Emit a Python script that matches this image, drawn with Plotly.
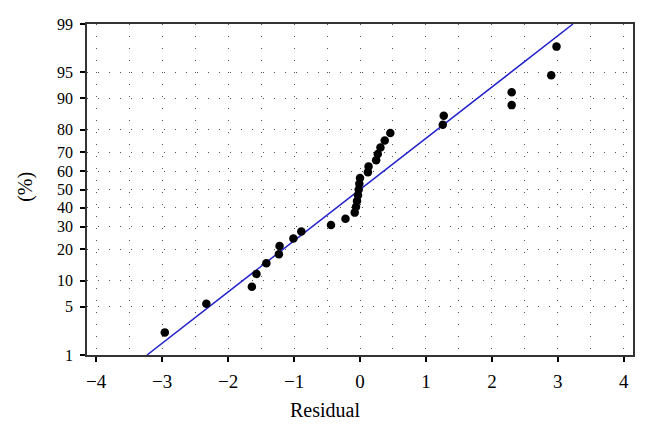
from statistics import NormalDist
import plotly.graph_objects as go

# Sorted residuals and their plotting percentiles (median ranks, n=31)
residuals = [-2.96, -2.33, -1.64, -1.57, -1.42, -1.23, -1.22, -1.01, -0.89, -0.44,
             -0.22, -0.08, -0.06, -0.045, -0.03, -0.02, -0.01, 0.0, 0.12, 0.13,
             0.245, 0.27, 0.31, 0.375, 0.46, 1.255, 1.27, 2.30, 2.30, 2.90, 2.98]
percent = [2.23, 5.41, 8.60, 11.78, 14.97, 18.15, 21.34, 24.52, 27.71, 30.89,
           34.08, 37.26, 40.45, 43.63, 46.82, 50.0, 53.18, 56.37, 59.55, 62.74,
           65.92, 69.11, 72.29, 75.48, 78.66, 81.85, 85.03, 88.22, 91.40, 94.59, 97.77]

# Fitted normal line (endpoints)
line_x = [-3.23, 3.23]
line_pct = [1, 99]

y_ticks = [1, 5, 10, 20, 30, 40, 50, 60, 70, 80, 90, 95, 99]
x_ticks = [-4, -3, -2, -1, 0, 1, 2, 3, 4]

nd = NormalDist()
z = lambda p: nd.inv_cdf(p / 100.0)

font_family = "Liberation Serif, DejaVu Serif, serif"

fig = go.Figure()
fig.add_trace(go.Scatter(
    x=line_x, y=[z(p) for p in line_pct], mode="lines",
    line=dict(color="#2222cc", width=1.5), hoverinfo="skip", showlegend=False))
fig.add_trace(go.Scatter(
    x=residuals, y=[z(p) for p in percent], mode="markers",
    marker=dict(color="black", size=8.5), showlegend=False))

fig.update_layout(
    width=639, height=422,
    margin=dict(l=79, r=14, t=16, b=75),
    paper_bgcolor="white", plot_bgcolor="white",
    font=dict(family=font_family, size=19, color="black"),
    xaxis=dict(
        range=[-4.14, 4.14], tickvals=x_ticks,
        ticks="outside", ticklen=5, tickwidth=1.5, tickcolor="black",
        ticklabelstandoff=3,
        showline=True, linecolor="#333333", linewidth=1.5, mirror=True,
        showgrid=True, gridcolor="#555555", gridwidth=1, griddash="1px,11px",
        minor=dict(dtick=0.5, tick0=0, showgrid=True, gridcolor="#555555",
                   gridwidth=1, griddash="1px,11px"),
        zeroline=False, automargin=False,
    ),
    yaxis=dict(
        range=[z(1), z(99)],
        tickvals=[z(p) for p in y_ticks], ticktext=[str(t) for t in y_ticks],
        tickfont=dict(size=16),
        ticks="outside", ticklen=5, tickwidth=1.5, tickcolor="black",
        ticklabelstandoff=4,
        showline=True, linecolor="#333333", linewidth=1.5, mirror=True,
        showgrid=True, gridcolor="#555555", gridwidth=1, griddash="1px,10px",
        zeroline=False, automargin=False,
    ),
    annotations=[
        dict(text="Residual", xref="paper", yref="paper", x=0.436, y=-0.166,
             xanchor="center", yanchor="middle", showarrow=False,
             font=dict(size=20)),
        dict(text="(%)", xref="paper", yref="paper", x=-0.1117, y=0.508,
             xanchor="center", yanchor="middle", showarrow=False,
             textangle=-90, font=dict(size=20)),
    ],
)

fig.write_html("out.html")
